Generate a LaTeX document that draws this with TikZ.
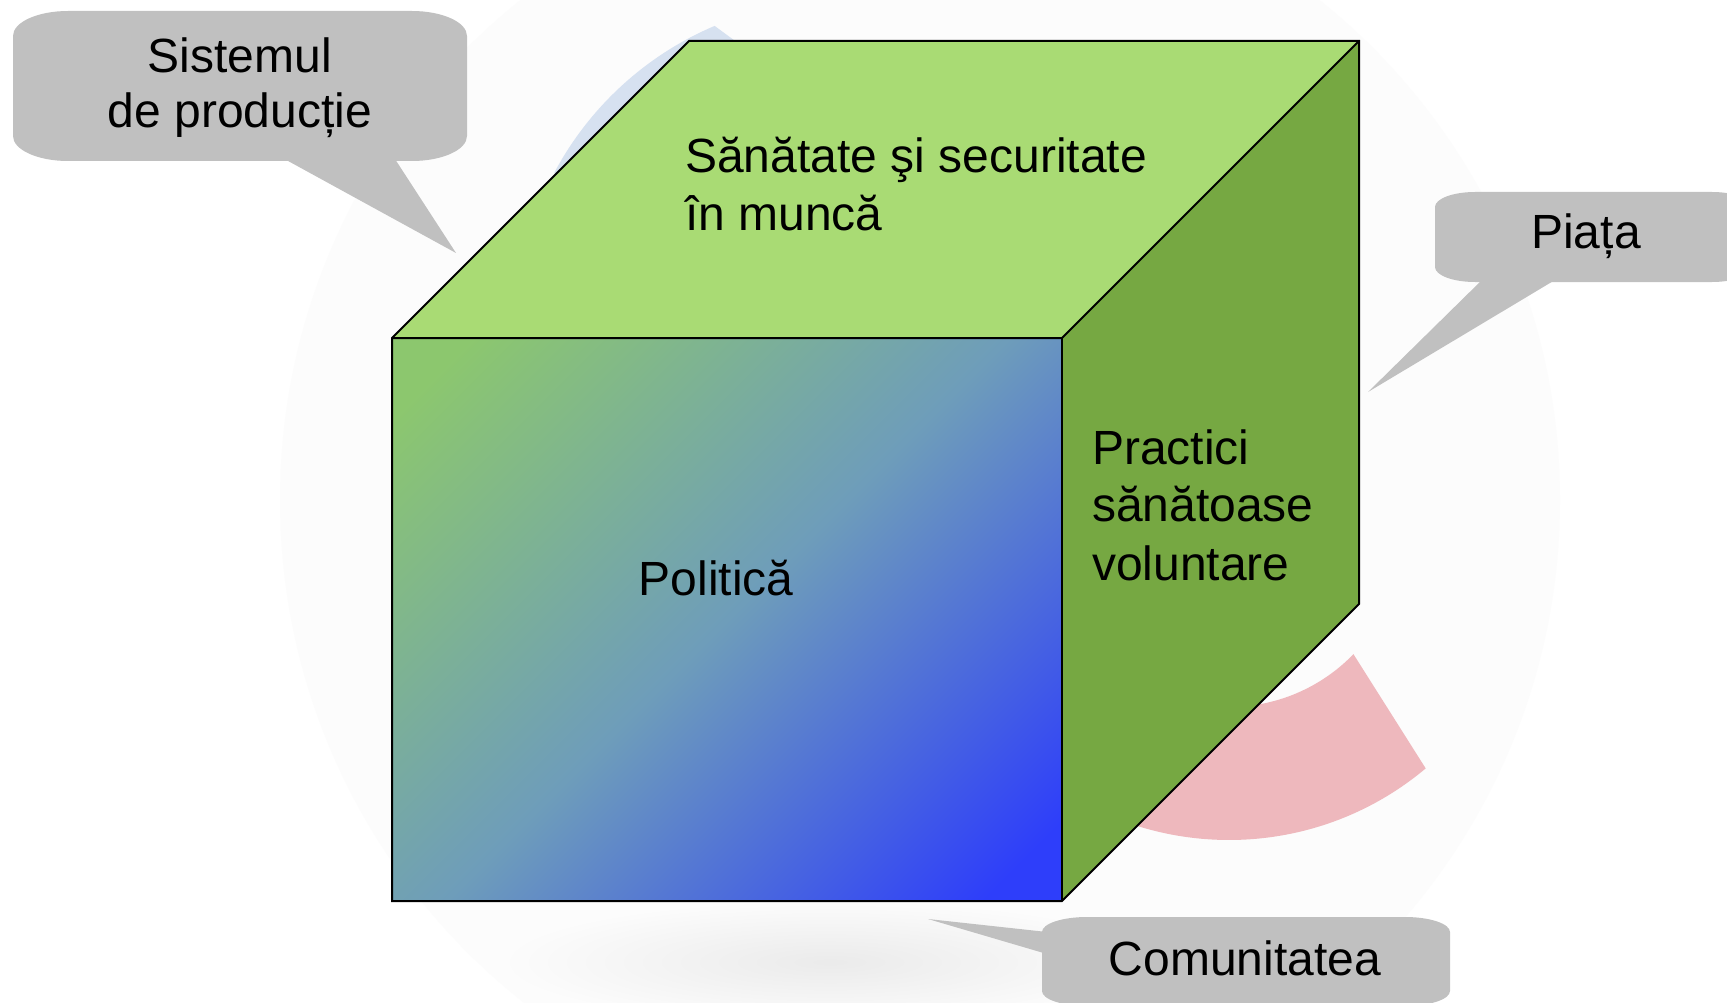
\documentclass[tikz,border=0pt]{standalone}
\usepackage{fontspec}
\setmainfont{Liberation Sans}
\definecolor{callgray}{RGB}{192,192,192}
\definecolor{topgreen}{RGB}{169,219,116}
\definecolor{sidegreen}{RGB}{118,168,66}
\definecolor{frontA}{RGB}{140,199,110}
\definecolor{frontB}{RGB}{110,157,186}
\definecolor{frontC}{RGB}{46,62,250}
\definecolor{discc}{RGB}{252,252,252}
\definecolor{pinkband}{RGB}{238,184,189}
\definecolor{blueband}{RGB}{214,225,240}
\pgfdeclareverticalshading{frontshade}{100bp}{color(0bp)=(frontC); color(19bp)=(frontC); color(50bp)=(frontB); color(81bp)=(frontA); color(100bp)=(frontA)}
% rounded box with elliptical corners: x1,y1,x2,y2 (image coords, y down), rx, ry
\newcommand\callbox[6]{%
  \fill[callgray] (#1+#5,-#2) -- (#3-#5,-#2)
    arc[start angle=90,end angle=0,x radius=#5,y radius=#6] -- (#3,-#4+#6)
    arc[start angle=0,end angle=-90,x radius=#5,y radius=#6] -- (#1+#5,-#4)
    arc[start angle=-90,end angle=-180,x radius=#5,y radius=#6] -- (#1,-#2-#6)
    arc[start angle=180,end angle=90,x radius=#5,y radius=#6] -- cycle;}
\begin{document}
\begin{tikzpicture}[x=1pt,y=1pt,
  lbl/.style={font=\fontsize{48}{58}\selectfont, inner sep=0pt, text=black},
  edge/.style={draw=black, line width=2pt, line join=miter}]
\useasboundingbox (0,0) rectangle (1727,-1003);
\fill[white] (0,0) rectangle (1727,-1003);
% faint watermark
\fill[discc] (920,-500) circle[radius=640];
\shade[inner color=black!8, outer color=discc] (830,-962) ellipse[x radius=330, y radius=62];
\fill[blueband, shift={(842,-326)}] (113:326) arc[start angle=113, end angle=152, radius=326]
  -- (152:300) arc[start angle=152, end angle=110, radius=300] -- cycle;
\fill[pinkband, shift={(1229,-534)}] (-50:306) arc[start angle=-50, end angle=-135, radius=306]
  -- (-135:173) arc[start angle=-135, end angle=-44, radius=173] -- cycle;
% callout: Sistemul de productie
\callbox{13}{11}{467}{161}{55}{25}
\fill[callgray] (279,-156) -- (456,-253) -- (393,-156) -- cycle;
\node[lbl, anchor=base] (sist1) at (240,-73) {Sistemul};
\node[lbl, anchor=base] (sist2) at (240,-128) {de producție};
% callout: Piata
\callbox{1435}{192}{1752}{282}{40}{15}
\fill[callgray] (1485,-277) -- (1368,-392) -- (1560,-277) -- cycle;
\node[lbl, anchor=base] (piata) at (1586,-249) {Piața};
% callout: Comunitatea
\callbox{1042}{917}{1450}{1006}{45}{15}
\fill[callgray] (1047,-932) -- (928,-919) -- (1047,-954) -- cycle;
\node[lbl, anchor=base] (comun) at (1245,-975) {Comunitatea};
% cube
\coordinate (ftl) at (392,-338);
\coordinate (ftr) at (1062,-338);
\coordinate (fbr) at (1062,-901);
\coordinate (fbl) at (392,-901);
\coordinate (btl) at (689,-41);
\coordinate (btr) at (1359,-41);
\coordinate (bbr) at (1359,-604);
\fill[topgreen] (ftl) -- (btl) -- (btr) -- (ftr) -- cycle;
\fill[sidegreen] (ftr) -- (btr) -- (bbr) -- (fbr) -- cycle;
\shade[shading=frontshade, shading angle=45] (ftl) rectangle (fbr);
\draw[edge] (ftl) -- (btl) -- (btr) -- (bbr) -- (fbr) -- (fbl) -- cycle;
\draw[edge] (ftl) -- (ftr) -- (btr);
\draw[edge] (ftr) -- (fbr);
% face texts
\node[lbl, anchor=base west] (top1) at (685,-173) {Sănătate şi securitate};
\node[lbl, anchor=base west] (top2) at (685,-231) {în muncă};
\node[lbl, anchor=base west] (side1) at (1092,-464) {Practici};
\node[lbl, anchor=base west] (side2) at (1092,-521) {sănătoase};
\node[lbl, anchor=base west] (side3) at (1092,-580) {voluntare};
\node[lbl, anchor=base] (pol) at (716,-595) {Politică};
\end{tikzpicture}
\end{document}
